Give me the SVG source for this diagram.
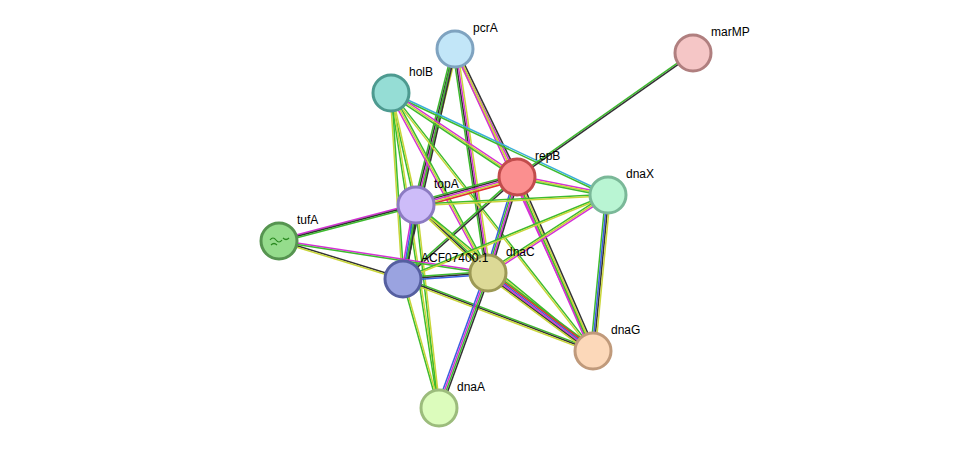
<svg xmlns="http://www.w3.org/2000/svg" xmlns:xlink="http://www.w3.org/1999/xlink" width="976" height="454" viewBox="0 0 976 454">
<style>
.n{stroke-width:3}
.t{font-family:"Liberation Sans",Arial,sans-serif;font-size:12px;fill:#000}
use{stroke-width:1.5;fill:none}
.g{stroke:#3dbb2e}.k{stroke:#333}.m{stroke:#d431d4}.y{stroke:#c9d63a}.b{stroke:#3a5fe0}.r{stroke:#e0302f}.c{stroke:#3bb0d8}
</style>
<defs>
<line id="pT" x1="455" y1="49" x2="416" y2="205"/>
<line id="pA" x1="455" y1="49" x2="403" y2="279"/>
<line id="pC" x1="455" y1="49" x2="488" y2="273"/>
<line id="pR" x1="455" y1="49" x2="517" y2="177"/>
<line id="pG" x1="455" y1="49" x2="593" y2="351"/>
<line id="hX" x1="391" y1="93" x2="608" y2="195"/>
<line id="hT" x1="391" y1="93" x2="416" y2="205"/>
<line id="hA" x1="391" y1="93" x2="403" y2="279"/>
<line id="hC" x1="391" y1="93" x2="488" y2="273"/>
<line id="hD" x1="391" y1="93" x2="439" y2="408"/>
<line id="hR" x1="391" y1="93" x2="517" y2="177"/>
<line id="hG" x1="391" y1="93" x2="593" y2="351"/>
<line id="mR" x1="693" y1="53" x2="517" y2="177"/>
<line id="rT" x1="517" y1="177" x2="416" y2="205"/>
<line id="rA" x1="517" y1="177" x2="403" y2="279"/>
<line id="rC" x1="517" y1="177" x2="488" y2="273"/>
<line id="rX" x1="517" y1="177" x2="608" y2="195"/>
<line id="rG" x1="517" y1="177" x2="593" y2="351"/>
<line id="tX" x1="416" y1="205" x2="608" y2="195"/>
<line id="tU" x1="416" y1="205" x2="279" y2="241"/>
<line id="tA" x1="416" y1="205" x2="403" y2="279"/>
<line id="tC" x1="416" y1="205" x2="488" y2="273"/>
<line id="tG" x1="416" y1="205" x2="593" y2="351"/>
<line id="tD" x1="416" y1="205" x2="439" y2="408"/>
<line id="uA" x1="279" y1="241" x2="403" y2="279"/>
<line id="uC" x1="279" y1="241" x2="488" y2="273"/>
<line id="aC" x1="403" y1="279" x2="488" y2="273"/>
<line id="aX" x1="403" y1="279" x2="608" y2="195"/>
<line id="aG" x1="403" y1="279" x2="593" y2="351"/>
<line id="aD" x1="403" y1="279" x2="439" y2="408"/>
<line id="cX" x1="488" y1="273" x2="608" y2="195"/>
<line id="cG" x1="488" y1="273" x2="593" y2="351"/>
<line id="cD" x1="488" y1="273" x2="439" y2="408"/>
<line id="xG" x1="608" y1="195" x2="593" y2="351"/>
</defs>
<g id="edges">
<use href="#pT" class="g" transform="translate(-2.4,0)"/><use href="#pT" class="k" transform="translate(-0.8,0)"/><use href="#pT" class="m" transform="translate(0.8,0)"/><use href="#pT" class="y" transform="translate(2.4,0)"/>
<use href="#pA" class="g" transform="translate(-0.8,0)"/><use href="#pA" class="k" transform="translate(0.8,0)"/>
<use href="#pC" class="g" transform="translate(-2.4,0)"/><use href="#pC" class="k" transform="translate(-0.8,0)"/><use href="#pC" class="m" transform="translate(0.8,0)"/><use href="#pC" class="y" transform="translate(2.4,0)"/>
<use href="#pR" class="y" transform="translate(-1.6,0.8)"/><use href="#pR" class="m" transform="translate(0,0)"/><use href="#pR" class="k" transform="translate(1.6,-0.8)"/>
<use href="#pG" class="m" transform="translate(-0.8,0.4)"/><use href="#pG" class="y" transform="translate(0.8,-0.4)"/>
<use href="#hX" class="c" transform="translate(0.4,-0.8)"/><use href="#hX" class="g" transform="translate(-0.4,0.8)"/>
<use href="#hT" class="g" transform="translate(-0.8,0)"/><use href="#hT" class="y" transform="translate(0.8,0)"/>
<use href="#hA" class="y" transform="translate(-0.8,0)"/><use href="#hA" class="g" transform="translate(0.8,0)"/>
<use href="#hC" class="m" transform="translate(-1.4,0.8)"/><use href="#hC" class="y" transform="translate(0,0)"/><use href="#hC" class="g" transform="translate(1.4,-0.8)"/>
<use href="#hD" class="g" transform="translate(-0.8,0)"/><use href="#hD" class="y" transform="translate(0.8,0)"/>
<use href="#hR" class="m" transform="translate(0.9,-1.3)"/><use href="#hR" class="y" transform="translate(0,0)"/><use href="#hR" class="g" transform="translate(-0.9,1.3)"/>
<use href="#hG" class="g" transform="translate(0.6,-0.6)"/><use href="#hG" class="y" transform="translate(-0.6,0.6)"/>
<use href="#mR" class="g" transform="translate(-0.5,-0.7)"/><use href="#mR" class="k" transform="translate(0.5,0.7)"/>
<use href="#rT" class="g" transform="translate(0,-3.2)"/><use href="#rT" class="k" transform="translate(0,-1.6)"/><use href="#rT" class="m" transform="translate(0,0)"/><use href="#rT" class="y" transform="translate(0,1.6)"/><use href="#rT" class="r" transform="translate(0,3.2)"/>
<use href="#rA" class="g" transform="translate(-0.6,-0.6)"/><use href="#rA" class="k" transform="translate(0.6,0.6)"/>
<use href="#rC" class="b" transform="translate(-2.4,0)"/><use href="#rC" class="g" transform="translate(-0.8,0)"/><use href="#rC" class="m" transform="translate(0.8,0)"/><use href="#rC" class="k" transform="translate(2.4,0)"/>
<use href="#rX" class="m" transform="translate(0,-1.6)"/><use href="#rX" class="y" transform="translate(0,0)"/><use href="#rX" class="g" transform="translate(0,1.6)"/>
<use href="#rG" class="m" transform="translate(-2.2,1)"/><use href="#rG" class="g" transform="translate(-0.7,0.3)"/><use href="#rG" class="y" transform="translate(0.7,-0.3)"/><use href="#rG" class="k" transform="translate(2.2,-1)"/>
<use href="#tX" class="g" transform="translate(0,-0.8)"/><use href="#tX" class="y" transform="translate(0,0.8)"/>
<use href="#tU" class="m" transform="translate(0,-1.6)"/><use href="#tU" class="k" transform="translate(0,0)"/><use href="#tU" class="g" transform="translate(0,1.6)"/>
<use href="#tA" class="m" transform="translate(-2.4,0)"/><use href="#tA" class="b" transform="translate(-0.8,0)"/><use href="#tA" class="g" transform="translate(0.8,0)"/><use href="#tA" class="k" transform="translate(2.4,0)"/>
<use href="#tC" class="g" transform="translate(1.1,-1.1)"/><use href="#tC" class="k" transform="translate(0,0)"/><use href="#tC" class="y" transform="translate(-1.1,1.1)"/>
<use href="#tG" class="g" transform="translate(0.6,-0.6)"/><use href="#tG" class="y" transform="translate(-0.6,0.6)"/>
<use href="#tD" class="g" transform="translate(-0.8,0)"/><use href="#tD" class="y" transform="translate(0.8,0)"/>
<use href="#uA" class="k" transform="translate(0,-0.8)"/><use href="#uA" class="y" transform="translate(0,0.8)"/>
<use href="#uC" class="m" transform="translate(0,-0.8)"/><use href="#uC" class="g" transform="translate(0,0.8)"/>
<use href="#aC" class="g" transform="translate(0,-1.6)"/><use href="#aC" class="k" transform="translate(0,0)"/><use href="#aC" class="b" transform="translate(0,1.6)"/>
<use href="#aX" class="g" transform="translate(0,-0.8)"/><use href="#aX" class="y" transform="translate(0,0.8)"/>
<use href="#aG" class="g" transform="translate(0,-1.6)"/><use href="#aG" class="k" transform="translate(0,0)"/><use href="#aG" class="y" transform="translate(0,1.6)"/>
<use href="#aD" class="g" transform="translate(-0.8,0)"/><use href="#aD" class="y" transform="translate(0.8,0)"/>
<use href="#cX" class="g" transform="translate(-0.9,-1.3)"/><use href="#cX" class="y" transform="translate(0,0)"/><use href="#cX" class="m" transform="translate(0.9,1.3)"/>
<use href="#cG" class="g" transform="translate(2,-2.6)"/><use href="#cG" class="r" transform="translate(1.2,-1.6)"/><use href="#cG" class="b" transform="translate(0.4,-0.5)"/><use href="#cG" class="m" transform="translate(-0.4,0.5)"/><use href="#cG" class="k" transform="translate(-1.2,1.6)"/><use href="#cG" class="y" transform="translate(-2,2.6)"/>
<use href="#cD" class="b" transform="translate(-2.4,-0.8)"/><use href="#cD" class="m" transform="translate(-0.8,-0.3)"/><use href="#cD" class="g" transform="translate(0.8,0.3)"/><use href="#cD" class="k" transform="translate(2.4,0.8)"/>
<use href="#xG" class="g" transform="translate(-2.4,0)"/><use href="#xG" class="b" transform="translate(-0.8,0)"/><use href="#xG" class="k" transform="translate(0.8,0)"/><use href="#xG" class="y" transform="translate(2.4,0)"/>
</g>
<g id="pcrA"><circle class="n" cx="455" cy="49" r="18" fill="#c2e6f8" stroke="#7fa3c0"/><text class="t" x="473" y="32">pcrA</text></g>
<g id="marMP"><circle class="n" cx="693" cy="53" r="18" fill="#f5c6c6" stroke="#b07f7f"/><text class="t" x="711" y="36">marMP</text></g>
<g id="holB"><circle class="n" cx="391" cy="93" r="18" fill="#95ddd5" stroke="#4d9a90"/><text class="t" x="409" y="76">holB</text></g>
<g id="repB"><circle class="n" cx="517" cy="177" r="18" fill="#fb8f8f" stroke="#c24c4c"/><text class="t" x="535" y="160">repB</text></g>
<g id="dnaX"><circle class="n" cx="608" cy="195" r="18" fill="#b9f5d3" stroke="#7ab898"/><text class="t" x="626" y="178">dnaX</text></g>
<g id="topA"><circle class="n" cx="416" cy="205" r="18" fill="#cdbcf9" stroke="#8c7bc2"/><text class="t" x="434" y="188">topA</text></g>
<g id="tufA"><circle class="n" cx="279" cy="241" r="18" fill="#95dc8c" stroke="#569450"/><text class="t" x="297" y="224">tufA</text><path d="M270 240 q3 -4 6 0 t6 0 M271 245 q3 -3 6 0 M283 238 q3 3 6 0" fill="none" stroke="#2a8a20" stroke-width="1.2"/></g>
<g id="dnaC"><circle class="n" cx="488" cy="273" r="18" fill="#dcd996" stroke="#9c9955"/><text class="t" x="506" y="256">dnaC</text></g>
<g id="ACF07400.1"><circle class="n" cx="403" cy="279" r="18" fill="#9aa3e0" stroke="#555fa0"/><text class="t" x="421" y="262">ACF07400.1</text></g>
<g id="dnaG"><circle class="n" cx="593" cy="351" r="18" fill="#fcd8b9" stroke="#c09a7b"/><text class="t" x="611" y="334">dnaG</text></g>
<g id="dnaA"><circle class="n" cx="439" cy="408" r="18" fill="#dcfcbc" stroke="#9cbc7c"/><text class="t" x="457" y="391">dnaA</text></g>
</svg>
